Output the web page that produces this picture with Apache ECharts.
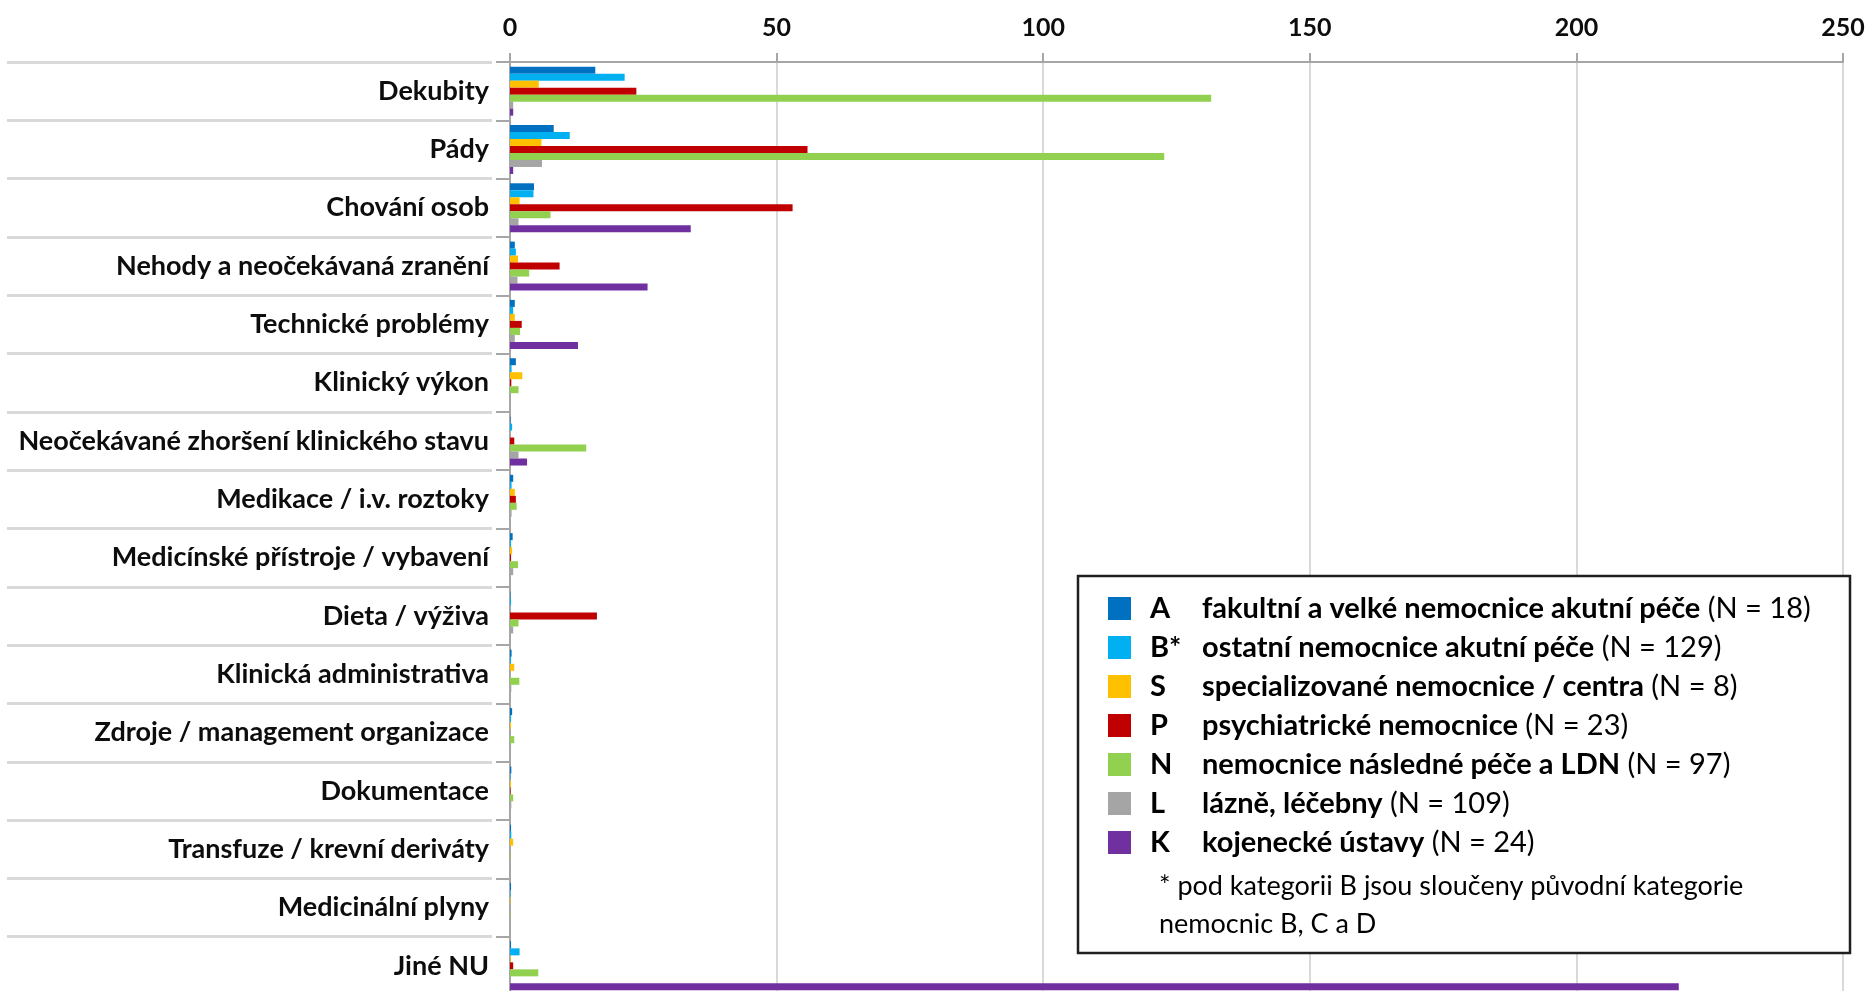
<!DOCTYPE html>
<html>
<head>
<meta charset="utf-8">
<script src="https://cdn.jsdelivr.net/npm/echarts@6/dist/echarts.min.js"></script>
<style>
  html, body { margin: 0; padding: 0; background: #fff; overflow: hidden; }
  /* a bit taller than the window: the last row is cut off in the original */
  #chart { width: 1870px; height: 1000px; }
</style>
</head>
<body>
<div id="chart"></div>
<script>
// categories, top to bottom
const categories = [
  'Dekubity',
  'Pády',
  'Chování osob',
  'Nehody a neočekávaná zranění',
  'Technické problémy',
  'Klinický výkon',
  'Neočekávané zhoršení klinického stavu',
  'Medikace / i.v. roztoky',
  'Medicínské přístroje / vybavení',
  'Dieta / výživa',
  'Klinická administrativa',
  'Zdroje / management organizace',
  'Dokumentace',
  'Transfuze / krevní deriváty',
  'Medicinální plyny',
  'Jiné NU'
];

const xTicks = [0, 50, 100, 150, 200, 250];

// legend
const seriesCodes = ['A', 'B*', 'S', 'P', 'N', 'L', 'K'];
const seriesNames = [
  'fakultní a velké nemocnice akutní péče',
  'ostatní nemocnice akutní péče',
  'specializované nemocnice / centra',
  'psychiatrické nemocnice',
  'nemocnice následné péče a LDN',
  'lázně, léčebny',
  'kojenecké ústavy'
];
const seriesN = [18, 129, 8, 23, 97, 109, 24];
const seriesColors = ['#0070C0', '#00B0F0', '#FFC000', '#C00000', '#92D050', '#A5A5A5', '#7030A0'];
const footnote = '* pod kategorii B jsou sloučeny původní kategorie\nnemocnic B, C a D';

// values
const valuesA = [16.0, 8.2, 4.5, 0.9, 0.9, 1.1, 0.1, 0.6, 0.5, 0.1, 0.3, 0.4, 0.25, 0.2, 0.2, 0.2];
const valuesB = [21.5, 11.2, 4.4, 1.1, 0.6, 0.3, 0.4, 0.3, 0.2, 0.2, 0.2, 0.2, 0.1, 0.25, 0.1, 1.8];
const valuesS = [5.4, 5.9, 1.8, 1.5, 0.9, 2.3, 0, 0.9, 0.4, 0, 0.8, 0.2, 0.2, 0.6, 0.1, 0.1];
const valuesP = [23.7, 55.8, 53.0, 9.3, 2.2, 0.25, 0.8, 1.1, 0.2, 16.3, 0, 0, 0.1, 0, 0, 0.6];
const valuesN = [131.5, 122.7, 7.6, 3.6, 1.9, 1.6, 14.3, 1.25, 1.5, 1.6, 1.75, 0.8, 0.6, 0.1, 0.1, 5.3];
const valuesL = [0.6, 6.0, 1.6, 1.4, 0.9, 0.1, 1.6, 0.3, 0.6, 0.6, 0.25, 0.2, 0.25, 0, 0, 0];
const valuesK = [0.6, 0.6, 33.9, 25.8, 12.75, 0, 3.2, 0, 0, 0, 0, 0, 0, 0, 0, 219.2];

const allValues = [valuesA, valuesB, valuesS, valuesP, valuesN, valuesL, valuesK];

const FONT = 'Lato';

const chart = echarts.init(document.getElementById('chart'), null, { renderer: 'canvas' });

const series = seriesCodes.map((code, i) => ({
  name: code,
  type: 'bar',
  data: allValues[i],
  barGap: '0%',
  barCategoryGap: '16%',
  itemStyle: { color: seriesColors[i] },
  animation: false
}));

chart.setOption({
  animation: false,
  backgroundColor: '#fff',
  grid: { left: 510, top: 62, width: 1333, height: 933 },
  xAxis: {
    type: 'value',
    position: 'top',
    min: xTicks[0],
    max: xTicks[xTicks.length - 1],
    interval: xTicks[1] - xTicks[0],
    axisLine: { show: true, lineStyle: { color: '#a6a6a6', width: 2 } },
    axisTick: { show: true, length: 9, lineStyle: { color: '#a6a6a6', width: 2 } },
    splitLine: { show: true, lineStyle: { color: '#d9d9d9', width: 2 } },
    axisLabel: { fontFamily: FONT, fontWeight: 'bold', fontSize: 25, color: '#0d0d0d', margin: 22 }
  },
  yAxis: [
    {
      type: 'category',
      data: categories,
      inverse: true,
      axisLine: { show: true, lineStyle: { color: '#a6a6a6', width: 2 } },
      axisTick: { show: true, interval: 0, length: 14, lineStyle: { color: '#a6a6a6', width: 2 } },
      axisLabel: {
        interval: 0, fontFamily: FONT, fontWeight: 'bold', fontSize: 27, color: '#0d0d0d',
        margin: 21, padding: [12, 0, 0, 0]
      }
    },
    {
      // light separator lines on the label side
      type: 'category',
      data: categories,
      inverse: true,
      position: 'left',
      offset: 18,
      axisLine: { show: false },
      axisTick: { show: true, interval: 0, length: 485, lineStyle: { color: '#d9d9d9', width: 3 } },
      axisLabel: { show: false },
      splitLine: { show: false }
    }
  ],
  legend: {
    orient: 'vertical',
    left: 1103,
    top: 589,
    z: 20,
    icon: 'rect',
    itemWidth: 23,
    itemHeight: 23,
    itemGap: 10,
    data: seriesCodes,
    formatter: name => {
      const i = seriesCodes.indexOf(name);
      return '{code|' + name + '}{desc|' + seriesNames[i] + '}{n| (N = ' + seriesN[i] + ')}';
    },
    textStyle: {
      rich: {
        code: { fontFamily: FONT, fontWeight: 'bold', fontSize: 29, color: '#000', width: 52, padding: [0, 0, 0, 14], lineHeight: 23 },
        desc: { fontFamily: FONT, fontWeight: 'bold', fontSize: 29, color: '#000', lineHeight: 23 },
        n: { fontFamily: FONT, fontWeight: 'normal', fontSize: 29, color: '#000', lineHeight: 23 }
      }
    }
  },
  graphic: [
    {
      type: 'rect',
      z: 10,
      shape: { x: 1078, y: 576, width: 772, height: 377 },
      style: { fill: '#fff', stroke: '#1f1f1f', lineWidth: 2.5 }
    },
    {
      type: 'text',
      z: 20,
      left: 1159,
      top: 867,
      style: { text: footnote, font: '27px Lato', fill: '#000', lineHeight: 38 }
    }
  ],
  series: series
});
</script>
</body>
</html>
